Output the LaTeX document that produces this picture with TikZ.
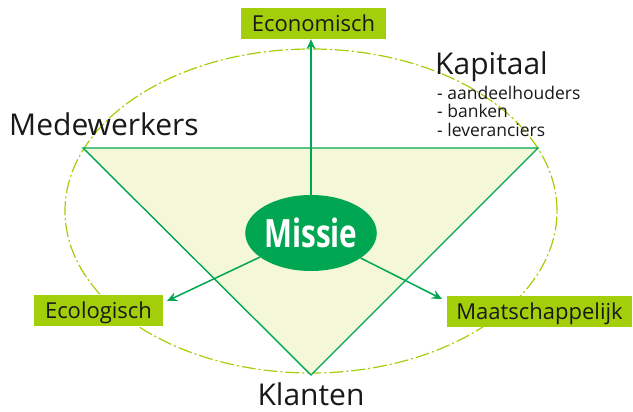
\documentclass[tikz,border=0pt]{standalone}
\usepackage{fontspec}
\setmainfont{Open Sans}
\newfontfamily\missiefont[FakeStretch=0.76]{Open Sans}
\usepackage{tikz}
\usetikzlibrary{shapes,arrows.meta,positioning}
\definecolor{kwgreen}{HTML}{00A651}
\definecolor{kwlime}{HTML}{A3CE0A}
\definecolor{kwcream}{HTML}{F5F8D8}

\begin{document}
\begin{tikzpicture}[
    x=1pt, y=-1pt,
    label/.style={font=\fontsize{30}{30}\selectfont, inner sep=0pt, text=black!90},
    list/.style={font=\fontsize{17.5}{18.5}\selectfont, inner sep=0pt, align=left, text=black!90},
    tag/.style={fill=kwlime, inner sep=0pt, minimum height=31pt, text depth=0pt, font=\fontsize{22}{22}\selectfont, text=black!90},
    arr/.style={-{Stealth[length=10pt,width=9pt]}, draw=kwgreen, line width=1.5pt}
]
    \useasboundingbox (0,0) rectangle (633,412);

    % Outer ellipse
    \draw[kwlime, line width=1.2pt, dash pattern=on 14pt off 3pt on 2pt off 3pt]
        (311,211) ellipse [x radius=246pt, y radius=162pt];

    % Triangle
    \coordinate (tl) at (83,148);
    \coordinate (tr) at (538,148);
    \coordinate (bt) at (311,375);
    \draw[kwgreen, fill=kwcream, line width=1.4pt] (tl) -- (tr) -- (bt) -- cycle;

    % Corners
    \node[label, anchor=west] (mede) at (9,124) {Medewerkers};
    \node[label, anchor=base west] (kap) at (435,75) {Kapitaal};
    \node[list, anchor=north west] (kaplist) at (437,86) {- aandeelhouders\\- banken\\- leveranciers};
    \node[label, below=8pt of bt] (klanten) {Klanten};

    % Centre
    \node[ellipse, fill=kwgreen, minimum width=118pt, minimum height=76pt, inner sep=0pt,
          text=white, font=\missiefont\bfseries\fontsize{39}{39}\selectfont] (missie) at (311,233) {Missie};

    % Targets
    \node[tag, minimum width=145pt] (econ) at (313.5,23.5) {Economisch};
    \node[tag, minimum width=129pt] (ecol) at (98.5,310.5) {Ecologisch};
    \node[tag, minimum width=185pt] (maat) at (539.5,311.5) {Maatschappelijk};
    \coordinate (ecoltip) at (167,301);
    \coordinate (maattip) at (442,299);

    % Connections
    \draw[arr] (missie.north) -- (missie.north |- econ.south);
    \draw[arr] (missie) -- (ecoltip);
    \draw[arr] (missie) -- (maattip);
\end{tikzpicture}
\end{document}
